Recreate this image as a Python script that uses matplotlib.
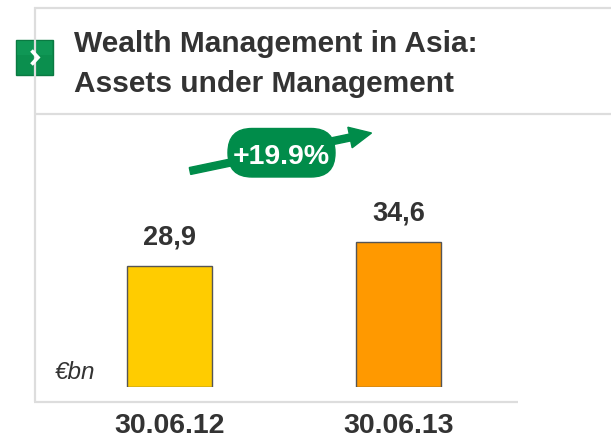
import matplotlib
matplotlib.use("Agg")
import matplotlib.pyplot as plt
from matplotlib.patches import FancyBboxPatch, FancyArrow, Rectangle
from matplotlib.lines import Line2D

categories = ["30.06.12", "30.06.13"]
values = [28.9, 34.6]
value_labels = ["28,9", "34,6"]
bar_colors = ["#FFCC00", "#FF9900"]
growth_label = "+19.9%"
title_line1 = "Wealth Management in Asia:"
title_line2 = "Assets under Management"
unit_label = "€bn"

W, H = 611, 441
fig = plt.figure(figsize=(W / 100, H / 100), dpi=100)
FAM = ["Liberation Sans", "DejaVu Sans"]
TXT = "#333333"

# overlay in pixel coordinates for decorations
ov = fig.add_axes([0, 0, 1, 1])
ov.set_xlim(0, W)
ov.set_ylim(H, 0)
ov.axis("off")

frame_c = "#DDDDDD"
for xs, ys in [((34, W), (7.5, 7.5)), ((35, 35), (7, 402)), ((35, W), (113.5, 113.5)), ((34, 518), (401.5, 401.5))]:
    ov.add_line(Line2D(xs, ys, color=frame_c, lw=1.6, solid_capstyle="butt"))

# green marker box with chevron
ov.add_patch(Rectangle((16, 40), 37, 35, fc="#0B8F4E", ec="#0A7A42", lw=1))
ov.add_patch(Rectangle((17, 41), 35, 14, fc="#14A05C", ec="none", alpha=0.5))
ov.add_line(Line2D([31.5, 38, 31.5], [50.5, 57.5, 64.5], color="white", lw=2.6,
                   solid_joinstyle="miter", solid_capstyle="butt"))

ov.text(74, 52, title_line1, fontsize=21.5, fontweight="bold", color=TXT, ha="left", va="baseline", family=FAM)
ov.text(74, 92, title_line2, fontsize=21.5, fontweight="bold", color=TXT, ha="left", va="baseline", family=FAM)

# growth arrow and badge
green = "#008C4A"
ov.add_patch(FancyArrow(190, 171, 160, -33.5, width=7, head_width=21, head_length=22,
                        length_includes_head=False, fc=green, ec=green))
ov.add_patch(FancyBboxPatch((228, 128.5), 107, 48.5, boxstyle="round,pad=0,rounding_size=24",
                            fc=green, ec=green))
ov.text(281.5, 164.5, growth_label, color="white", fontsize=20.5, fontweight="bold", ha="center",
        va="baseline", family=FAM)

ov.text(55, 379, unit_label, fontsize=17.5, style="italic", color=TXT, ha="left", va="baseline", family=FAM)

# data axes
left_px, right_px, base_px, top_px = 35, 518, 387, 114
ax = fig.add_axes([left_px / W, (H - base_px) / H, (right_px - left_px) / W, (base_px - top_px) / H])
ax.patch.set_alpha(0)
unit = 229.0
c0 = 169.5
ax.set_xlim(-(c0 - left_px) / unit, (right_px - c0) / unit)
scale = 121.5 / 28.9
ax.set_ylim(0, (base_px - top_px) / scale)
x = list(range(len(categories)))
ax.bar(x, values, width=85 / unit, color=bar_colors, edgecolor="#555555", linewidth=1)
for xi, v, lab in zip(x, values, value_labels):
    ax.annotate(lab, (xi, v), xytext=(0, 21), textcoords="offset pixels", ha="center", va="baseline",
                fontsize=19.5, fontweight="bold", color=TXT, family=FAM)
ax.set_xticks(x)
ax.set_xticklabels(categories, fontsize=20.5, fontweight="bold", color=TXT, family=FAM)
ax.tick_params(axis="x", length=0, pad=19)
ax.set_yticks([])
for s in ax.spines.values():
    s.set_visible(False)

fig.savefig("out.png", dpi=100)
